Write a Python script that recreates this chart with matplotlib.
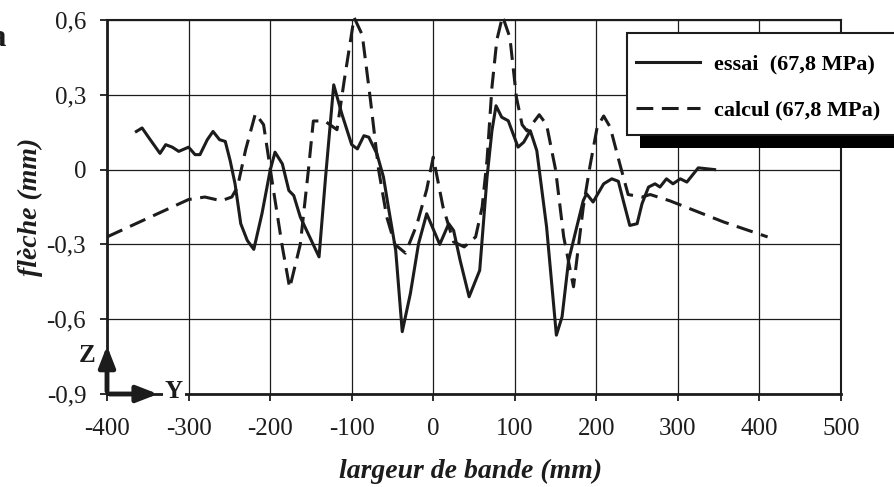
import matplotlib
matplotlib.use("Agg")
import matplotlib.pyplot as plt
from matplotlib.patches import Rectangle, FancyArrowPatch
from matplotlib.lines import Line2D

# ---- data ----
essai_x = [-364, -357, -347, -335, -328, -320, -312, -300, -292, -286, -277, -270, -262, -255,
           -249, -243, -236, -228, -220, -210, -200, -194, -185, -177, -171, -163, -140, -132,
           -122, -112, -100, -93, -85, -79, -69, -61, -55, -46, -38, -28, -18, -8, 8, 19, 25,
           33, 44, 57, 66, 72, 77, 84, 92, 104, 111, 119, 127, 139, 151, 158, 166, 176, 184,
           188, 196, 209, 219, 227, 233, 241, 250, 256, 264, 272, 278, 286, 294, 303, 311, 325, 345]
essai_y = [0.153, 0.167, 0.12, 0.065, 0.10, 0.09, 0.073, 0.09, 0.06, 0.06, 0.12, 0.153, 0.12, 0.113,
           0.036, -0.057, -0.217, -0.284, -0.32, -0.177, -0.004, 0.07, 0.023, -0.084, -0.104, -0.19,
           -0.35, -0.03, 0.34, 0.223, 0.10, 0.083, 0.136, 0.13, 0.063, -0.03, -0.15, -0.324, -0.65,
           -0.497, -0.297, -0.177, -0.30, -0.217, -0.244, -0.364, -0.51, -0.404, -0.03, 0.156, 0.256,
           0.21, 0.196, 0.09, 0.11, 0.156, 0.076, -0.23, -0.664, -0.59, -0.364, -0.23, -0.124,
           -0.097, -0.13, -0.057, -0.037, -0.047, -0.124, -0.224, -0.217, -0.137, -0.07, -0.057,
           -0.07, -0.037, -0.057, -0.037, -0.05, 0.007, 0.0]

calcul_x = [-400, -300, -280, -260, -247, -240, -230, -218, -208, -196, -185, -176, -163, -153,
            -147, -133, -118, -109, -97, -87, -77, -67, -57, -47, -34, -20, -8, 0, 12, 25, 38,
            52, 60, 66, 72, 78, 85, 94, 102, 109, 115, 130, 139, 150, 160, 172, 184, 192, 201,
            209, 217, 229, 239, 256, 266, 290, 356, 410]
calcul_y = [-0.27, -0.12, -0.11, -0.125, -0.11, -0.07, 0.08, 0.225, 0.18, -0.08, -0.31, -0.475,
            -0.30, 0.0, 0.195, 0.195, 0.16, 0.36, 0.61, 0.54, 0.28, 0.0, -0.19, -0.30, -0.335,
            -0.22, -0.08, 0.05, -0.15, -0.29, -0.31, -0.27, -0.15, 0.04, 0.33, 0.52, 0.615, 0.53,
            0.29, 0.18, 0.155, 0.22, 0.18, 0.0, -0.27, -0.47, -0.15, 0.01, 0.17, 0.215, 0.17,
            0.02, -0.10, -0.11, -0.10, -0.125, -0.21, -0.27]

x_ticks = [-400, -300, -200, -100, 0, 100, 200, 300, 400, 500]
y_ticks = [-0.9, -0.6, -0.3, 0.0, 0.3, 0.6]
y_tick_labels = ["-0,9", "-0,6", "-0,3", "0", "0,3", "0,6"]
labels = ["essai  (67,8 MPa)", "calcul (67,8 MPa)"]

ink = "#1c1c1c"
serif = ["Liberation Serif", "DejaVu Serif"]
plt.rcParams["font.family"] = serif
plt.rcParams["axes.unicode_minus"] = False

W, H = 895, 487
fig = plt.figure(figsize=(W / 100, H / 100), dpi=100)
ax = fig.add_axes([107 / W, 1 - 394 / H, (841 - 107) / W, (394 - 20) / H])

dash = (0, (5.5, 2.8))
ax.plot(essai_x, essai_y, color=ink, lw=2.2, clip_on=False, zorder=3)
ax.plot(calcul_x, calcul_y, color=ink, lw=2.2, ls=dash, clip_on=False, zorder=3)

ax.set_xlim(-400, 500)
ax.set_ylim(-0.9, 0.6)
ax.set_xticks(x_ticks)
ax.set_xticklabels([str(v) for v in x_ticks])
ax.set_yticks(y_ticks)
ax.set_yticklabels(y_tick_labels)
ax.grid(True, color=ink, lw=0.9)
ax.set_axisbelow(True)
ax.tick_params(direction="out", length=5, width=1.3, colors=ink, labelsize=18)
ax.tick_params(axis="y", pad=10)
ax.tick_params(axis="x", pad=12)
for s in ["left", "bottom"]:
    ax.spines[s].set_linewidth(2.0)
for s in ["top", "right"]:
    ax.spines[s].set_linewidth(1.5)
for s in ax.spines.values():
    s.set_color(ink)

ax.set_xlabel("largeur de bande (mm)", fontsize=20, fontweight="bold", fontstyle="italic", color=ink)
ax.set_ylabel("flèche (mm)", fontsize=20, fontweight="bold", fontstyle="italic", color=ink)
ax.xaxis.set_label_coords((471 - 107) / 734, (394 - 459) / 374)
ax.yaxis.set_label_coords((43 - 107) / 734, 0.5)

# Z / Y axes arrows
ax.add_patch(FancyArrowPatch((-400, -0.9), (-400, -0.695), arrowstyle="-|>,head_length=0.9,head_width=0.35",
                             mutation_scale=14, lw=3.5, color=ink, clip_on=False, zorder=5))
ax.add_patch(FancyArrowPatch((-400, -0.9), (-334, -0.9), arrowstyle="-|>,head_length=0.9,head_width=0.35",
                             mutation_scale=14, lw=3.5, color=ink, clip_on=False, zorder=5))
ax.text(-424, -0.745, "Z", fontsize=18, fontweight="bold", ha="center", va="center", color=ink, clip_on=False)
ax.text(-318, -0.89, "Y", fontsize=18, fontweight="bold", ha="center", va="center", color=ink,
        clip_on=False, zorder=6, bbox=dict(facecolor="white", edgecolor="none", pad=1.5))

# legend box with black shadow
fig.add_artist(Rectangle((640 / W, 1 - 148 / H), 300 / W, 100 / H, transform=fig.transFigure,
                         facecolor="black", edgecolor="none", zorder=8))
fig.add_artist(Rectangle((627 / W, 1 - 135 / H), 300 / W, 102 / H, transform=fig.transFigure,
                         facecolor="white", edgecolor=ink, lw=1.5, zorder=9))
handles = [Line2D([], [], color=ink, lw=2.2), Line2D([], [], color=ink, lw=2.2, ls=dash)]
leg = fig.legend(handles, labels, loc="upper left", bbox_to_anchor=(636 / W, 1 - 54 / H),
                 frameon=False, prop=dict(family=serif, weight="bold", size=16),
                 handlelength=2.9, handletextpad=0.6, labelspacing=1.15, borderaxespad=0, borderpad=0)
leg.set_zorder(10)

fig.text(6 / W, 1 - 39 / H, "a", fontsize=22, fontweight="bold", ha="right", va="center", color=ink)

fig.savefig("out.png", dpi=100)
